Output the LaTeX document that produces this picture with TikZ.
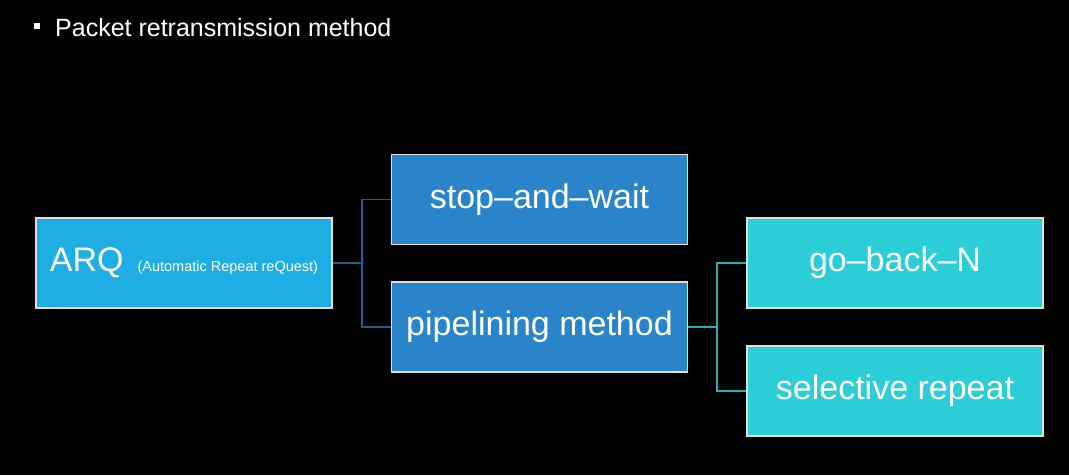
\documentclass[tikz,border=0pt]{standalone}
\usepackage{fontspec}
\setmainfont{Liberation Sans}
\definecolor{arqblue}{HTML}{1FAEE3}
\definecolor{midblue}{HTML}{2A84C9}
\definecolor{cyanbox}{HTML}{2BCDD7}
\definecolor{linkblue}{HTML}{1E5F8F}
\definecolor{linkcyan}{HTML}{27AEB6}
\begin{document}
\begin{tikzpicture}[x=1pt,y=-1pt,
  box/.style={draw=gray!25,line width=1.2pt,minimum width=296pt,minimum height=90pt,
    inner sep=0pt,text=white,font=\fontsize{34}{40}\selectfont},
  link/.style={line width=1.2pt}]
\fill[black] (0,0) rectangle (1069,475);
\fill[white] (34,23) rectangle (40,29);
\node[anchor=base west,inner sep=0pt,text=white,font=\fontsize{25}{30}\selectfont] (title) at (55,36) {Packet retransmission method};
% boxes
\node[box,fill=arqblue] (arq) at (184,263) {ARQ\hspace{14pt}{\fontsize{14.5}{18}\selectfont(Automatic Repeat reQuest)}};
\node[box,fill=midblue] (stop) at (539.5,199.5) {stop–and–wait};
\node[box,fill=midblue] (pipe) at (539.5,327) {pipelining method};
\node[box,fill=cyanbox] (gbn) at (895,263) {go–back–N};
\node[box,fill=cyanbox] (sr) at (895,391) {selective repeat};
% connectors
\coordinate (fork1) at (362,263);
\coordinate (fork2) at (717,327);
\draw[link,linkblue] (arq.east) -- (fork1) |- (stop.west);
\draw[link,linkblue] (fork1) |- (pipe.west);
\draw[link,linkcyan] (pipe.east) -- (fork2) |- (gbn.west);
\draw[link,linkcyan] (fork2) |- (sr.west);
\end{tikzpicture}
\end{document}
